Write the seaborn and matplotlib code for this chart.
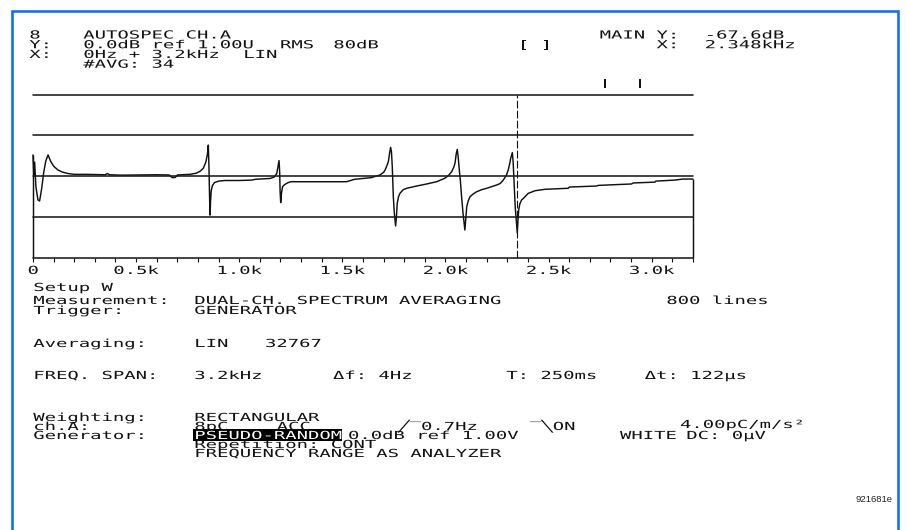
import numpy as np
import matplotlib
matplotlib.use("Agg")
import matplotlib.pyplot as plt
import seaborn as sns
from matplotlib.patheffects import AbstractPathEffect
from matplotlib.transforms import Affine2D
from matplotlib.patches import Rectangle
from matplotlib.font_manager import FontProperties

# ---------------- data ----------------
freq_hz = [0, 4, 8, 14, 24, 32, 42, 52, 62, 73, 85, 100, 120, 140, 170, 200,
           260, 350, 360, 372, 430, 600, 660, 675, 690, 700, 760, 790, 810, 826,
           838, 846, 850, 853, 856, 858, 861, 864, 870, 880, 900, 930, 1000,
           1060, 1080, 1150, 1170, 1182, 1193, 1196, 1198, 1201, 1205, 1210,
           1220, 1235, 1250, 1400, 1520, 1540, 1560, 1600, 1640, 1682, 1700,
           1707, 1715, 1723, 1730, 1734, 1738, 1742, 1747, 1752, 1758, 1762,
           1766, 1772, 1779, 1795, 1812, 1860, 1909, 1957, 1997, 2015, 2030,
           2040, 2046, 2052, 2057, 2061, 2067, 2072, 2078, 2085, 2094, 2099,
           2103, 2110, 2119, 2135, 2151, 2175, 2200, 2248, 2265, 2280, 2295,
           2304, 2312, 2316, 2324, 2328, 2332, 2338, 2348, 2351, 2355, 2360,
           2369, 2380, 2393, 2401, 2434, 2482, 2595, 2600, 2733, 2740, 2902,
           2910, 3015, 3020, 3112, 3150, 3200]
level_db = [-29.5, -40.0, -33.0, -45.0, -51.5, -52.0, -46.0, -38.0, -32.5, -29.5,
            -32.5, -35.0, -36.8, -37.8, -38.6, -39.0,
            -39.0, -39.2, -38.6, -39.2, -39.4, -39.2, -39.3, -40.6, -40.5, -39.3,
            -39.0, -38.5, -37.5, -36.0,
            -33.0, -29.0, -24.7, -35.0, -50.0, -58.9, -52.0, -47.0, -44.5, -43.0,
            -42.3, -42.0, -42.0,
            -41.8, -41.4, -41.0, -40.3, -38.5, -32.3, -38.0, -47.0, -52.8, -48.0,
            -45.0, -44.0, -43.1, -42.6, -42.6, -42.6, -42.0, -41.4, -41.0, -40.6,
            -39.3, -38.0,
            -36.9, -35.0, -32.8, -28.0, -25.8, -28.0, -35.3, -49.9, -58.0, -64.2,
            -60.0, -53.1, -50.0, -48.3, -46.5, -45.8, -44.7, -43.7, -42.6, -40.9,
            -39.5, -37.7,
            -35.5, -33.6, -29.0, -26.8, -30.0, -36.9, -42.0, -49.9, -58.0, -66.2,
            -60.0, -54.8, -52.0, -49.9, -48.5, -47.5, -46.5, -45.8, -44.2, -43.5,
            -41.8, -39.5,
            -36.9, -33.5, -31.2, -28.4, -33.0, -41.8, -55.0, -67.6, -62.0, -56.4,
            -53.5,
            -51.5, -50.5, -49.1, -48.3, -47.0, -46.3, -45.8, -45.2, -44.7, -44.4,
            -43.7, -43.2, -42.8, -42.3, -41.8, -41.3, -41.3]
x_tick_vals = [0, 500, 1000, 1500, 2000, 2500, 3000]
x_tick_labels = ["0", "0.5k", "1.0k", "1.5k", "2.0k", "2.5k", "3.0k"]
x_minor_vals = list(range(0, 3201, 100))
db_grid = [0, -20, -40, -60, -80]
cursor_hz = 2348

# text stacks: (x px, first baseline px, row pitch px, lines)
text_stacks = [
    (29.3, 38.5, 9.73, ["8", "Y:", "X:"]),
    (83.3, 38.5, 9.73, ["AUTOSPEC CH.A", "0.0dB ref 1.00U", "0Hz + 3.2kHz", "#AVG: 34"]),
    (599.7, 38.5, 9.73, ["MAIN Y:", "     X:"]),
    (704.7, 38.5, 9.73, ["-67.6dB", "2.348kHz"]),
    (33.3, 304, 10, ["Measurement:", "Trigger:"]),
    (194.3, 304, 10, ["DUAL-CH. SPECTRUM AVERAGING", "GENERATOR"]),
    (33.3, 421, 9, ["Weighting:", "ch.A:", "Generator:"]),
    (194.3, 421, 9, ["RECTANGULAR", "8pC"]),
    (194.3, 448, 9, ["Repetition: CONT", "FREQUENCY RANGE AS ANALYZER"]),
]
# single texts: (x px, baseline px, text)
text_singles = [
    (280, 48.3, "RMS"), (333.3, 48.3, "80dB"), (518, 48.3, "[ ]"),
    (243.3, 58, "LIN"), (599.7, 87, "[  ]"),
    (33.3, 291, "Setup W"), (666.3, 304, "800 lines"),
    (33.3, 347, "Averaging:"), (194.3, 347, "LIN"), (265, 347, "32767"),
    (33.3, 379, "FREQ. SPAN:"), (194.3, 379, "3.2kHz"), (333, 379, "Δf: 4Hz"),
    (506.3, 379, "T: 250ms"), (644.7, 379, "Δt: 122μs"),
    (276.7, 430, "ACC"), (398.3, 430, "╱‾0.7Hz"), (530, 430, "‾╲ON"),
    (680, 428, "4.00pC/m/s²"),
    (348, 439, "0.0dB ref 1.00V"), (620, 439, "WHITE"), (686.3, 439, "DC: 0μV"),
]
inverse_text = (194.3, 439, "PSEUDO-RANDOM")
figure_id = "921681e"

# ---------------- style ----------------
W, H = 906, 530
sns.set_style("white")
MONO = ["DejaVu Sans Mono", "DejaVu Sans"]
plt.rcParams["font.family"] = MONO
INK = "#111111"
FS = 8.0
SX = 1.70


class Stretch(AbstractPathEffect):
    """Widen glyphs horizontally, like the analyser's pixel font."""

    def __init__(self, sx=SX, center=False):
        super().__init__()
        self.sx = sx
        self.center = center

    def draw_path(self, renderer, gc, tpath, affine, rgbFace=None):
        cx = 0.0
        if self.center and len(tpath.vertices):
            v = tpath.vertices[:, 0]
            cx = (v.min() + v.max()) / 2.0
        t = Affine2D().translate(-cx, 0).scale(self.sx, 1).translate(cx, 0)
        renderer.draw_path(gc, tpath, t + affine, rgbFace)


fig = plt.figure(figsize=(W / 100, H / 100), dpi=100)
fig.patch.set_facecolor("white")
R = fig.canvas.get_renderer()
FP = FontProperties(family=MONO, size=FS)
_, LP_H, LP_D = R.get_text_width_height_descent("lp", FP, ismath=False)


def fx(x):
    return x / W


def fy(y):
    return 1 - y / H


def put(x, y, s, color=INK, **kw):
    t = fig.text(fx(x), fy(y), s, ha="left", va="baseline", fontsize=FS,
                 family=MONO, color=color, **kw)
    t.set_path_effects([Stretch()])
    return t


def stack(x, y0, pitch, lines, color=INK):
    # matplotlib baseline pitch = descent + linespacing * (ascent of "lp")
    _, h0, d0 = R.get_text_width_height_descent(lines[0], FP, ismath=False)
    asc0 = max(h0, LP_H) - max(d0, LP_D)
    ls = (pitch - LP_D) / (LP_H - LP_D)
    t = fig.text(fx(x), fy(y0 - asc0), "\n".join(lines), ha="left", va="top",
                 fontsize=FS, family=MONO, color=color, linespacing=ls)
    t.set_path_effects([Stretch()])
    return t


# plot area
left, right, top, bottom = 33, 693, 94.5, 258.3
ax = fig.add_axes([fx(left), fy(bottom), (right - left) / W, (bottom - top) / H])
ax.set_facecolor("none")
for s in ax.spines.values():
    s.set_visible(False)

sns.lineplot(x=freq_hz, y=level_db, ax=ax, color=INK, lw=1.05,
             estimator=None, sort=False, legend=False)
for ln in ax.get_lines():
    ln.set_clip_on(False)
ax.vlines([freq_hz[0], freq_hz[-1]], db_grid[-1], [level_db[0], level_db[-1]],
          color=INK, lw=1.05, clip_on=False)
for g in db_grid:
    ax.axhline(g, color="#1a1a1a", lw=1.15, clip_on=False)
ax.axvline(cursor_hz, color=INK, lw=0.8, ls=(0, (7, 2)), clip_on=False)

ax.set_xlim(0, 3200)
ax.set_ylim(-80, 0)
ax.set_xticks(x_tick_vals)
ax.set_xticklabels(x_tick_labels, fontsize=FS, family=MONO, color=INK)
ax.set_xticks(x_minor_vals, minor=True)
ax.tick_params(axis="x", which="both", direction="out", length=3, width=0.8,
               color=INK, pad=2.5, bottom=True)
ax.set_yticks([])
ax.set_xlabel("")
ax.set_ylabel("")
for lab in ax.get_xticklabels():
    lab.set_path_effects([Stretch(center=True)])

# texts
for x, y0, pitch, lines in text_stacks:
    stack(x, y0, pitch, lines)
for x, y, s in text_singles:
    put(x, y, s)

ix, iy, its = inverse_text
fig.patches.append(Rectangle((fx(192.7), fy(440.5)), (341.7 - 192.7) / W, 11.5 / H,
                             transform=fig.transFigure, facecolor="black",
                             edgecolor="none", zorder=1))
put(ix, iy, its, color="white", zorder=3)

fig.text(fx(893), fy(502), figure_id, ha="right", va="baseline", fontsize=6.8,
         family=["Liberation Sans", "DejaVu Sans"], color="#222222")

# blue frame
fig.patches.append(Rectangle((fx(11.5), -0.05), (898 - 11.5) / W, fy(10.5) + 0.05,
                             transform=fig.transFigure, fill=False,
                             edgecolor="#1470f0", lw=1.9, clip_on=False))

fig.savefig("out.png", dpi=100, facecolor="white")
